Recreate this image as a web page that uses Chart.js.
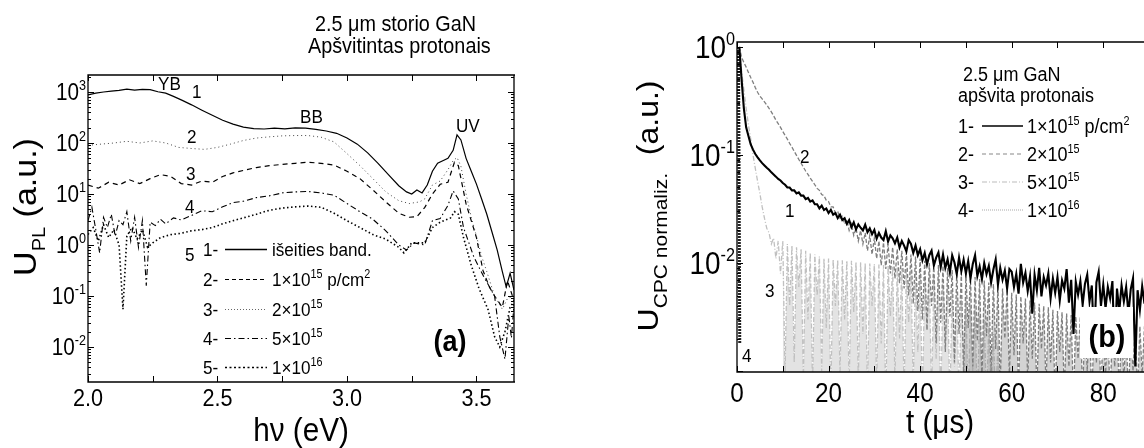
<!DOCTYPE html>
<html>
<head>
<meta charset="utf-8">
<title>GaN PL ir CPC</title>
<script src="https://cdn.jsdelivr.net/npm/chart.js@4.4.1/dist/chart.umd.min.js"></script>
<style>
  html, body { margin: 0; padding: 0; background: #fff; }
  #wrap { position: relative; width: 1144px; height: 448px; overflow: hidden; }
  canvas { position: absolute; top: 0; }
  #plChart { left: 0; }
  #cpcChart { left: 560px; }
</style>
</head>
<body>
<div id="wrap">
  <canvas id="plChart" width="560" height="448"></canvas>
  <canvas id="cpcChart" width="584" height="448"></canvas>
</div>
<script>
// (a) fotoliuminescencijos spektrai, hv (eV) -> U_PL (a.u.)
var hv1 = [2.0, 2.03, 2.06, 2.09, 2.12, 2.15, 2.18, 2.21, 2.24, 2.27, 2.3, 2.33, 2.36,
  2.4, 2.44, 2.48, 2.52, 2.56, 2.6, 2.64, 2.68, 2.72, 2.76, 2.8, 2.84, 2.88, 2.92, 2.96, 3.0,
  3.04, 3.08, 3.12, 3.16, 3.2, 3.23, 3.25, 3.27, 3.29, 3.31, 3.33, 3.35, 3.37, 3.39, 3.41,
  3.425, 3.44, 3.46, 3.48, 3.5, 3.52, 3.54, 3.56, 3.58, 3.6, 3.615, 3.63, 3.645];
var pl1 = [880, 950, 1000, 1040, 1080, 1140, 1090, 1130, 1110, 1010, 950, 820, 700,
  560, 440, 350, 280, 235, 205, 192, 188, 195, 190, 198, 195, 185, 172, 155, 125,
  95, 64, 40, 24, 14.5, 11, 10, 12, 10.5, 15, 28, 40, 45, 50, 72,
  145, 115, 50, 28, 15.6, 8, 4, 1.8, 0.8, 0.3, 0.15, 0.28, 0.13];

var hv2 = [2.0, 2.05, 2.1, 2.15, 2.2, 2.25, 2.3, 2.35, 2.4, 2.45, 2.5, 2.55, 2.6, 2.65, 2.7,
  2.75, 2.8, 2.85, 2.9, 2.95, 3.0, 3.05, 3.1, 3.15, 3.2, 3.24, 3.28, 3.3, 3.33, 3.36, 3.39,
  3.41, 3.425, 3.44, 3.46, 3.48, 3.5, 3.52, 3.54, 3.57, 3.6, 3.62, 3.645];
var pl2 = [90, 95, 100, 108, 100, 110, 100, 82, 78, 75, 82, 95, 112, 125, 132,
  138, 140, 140, 130, 105, 62, 36, 20, 11, 7.4, 6.5, 7, 8, 15, 18, 30,
  45, 52, 35, 10, 3.5, 1.5, 0.6, 0.3, 0.1, 0.055, 0.09, 0.1];

var hv3 = [2.0, 2.04, 2.08, 2.12, 2.16, 2.2, 2.24, 2.28, 2.32, 2.36, 2.4, 2.44, 2.48, 2.52,
  2.56, 2.6, 2.65, 2.7, 2.75, 2.8, 2.85, 2.9, 2.95, 3.0, 3.05, 3.1, 3.15, 3.2, 3.24, 3.27,
  3.3, 3.33, 3.36, 3.39, 3.415, 3.43, 3.46, 3.5, 3.525, 3.55, 3.57, 3.6, 3.62, 3.645];
var pl3 = [15, 13, 17, 15, 19, 16, 20, 24, 22, 16, 15, 18, 17, 22,
  26, 29, 33, 36, 38, 40, 42, 40, 37, 28, 20, 12, 7, 4.2, 3.5, 3.6,
  5.4, 10, 15.5, 17, 42, 36, 6.4, 1.4, 0.32, 0.15, 0.1, 0.06, 0.2, 0.08];

var hv4 = [2.0, 2.015, 2.03, 2.045, 2.06, 2.075, 2.09, 2.105, 2.12, 2.135, 2.15, 2.165,
  2.18, 2.195, 2.21, 2.225, 2.24, 2.26, 2.28, 2.3, 2.33, 2.36, 2.4, 2.44, 2.48, 2.52, 2.56,
  2.6, 2.65, 2.7, 2.75, 2.8, 2.85, 2.9, 2.95, 3.0, 3.05, 3.1, 3.15, 3.2, 3.23, 3.26, 3.3,
  3.33, 3.36, 3.39, 3.41, 3.43, 3.45, 3.49, 3.53, 3.57, 3.59, 3.61, 3.625, 3.635, 3.645];
var pl4 = [3, 5.5, 2, 0.7, 3.5, 2.2, 4, 1.5, 3, 2.5, 4.5, 1.2,
  3.5, 0.9, 3, 0.16, 2.8, 2.4, 3.2, 2.6, 3.4, 3.1, 3.8, 4.7, 4.5, 5.6, 6.8,
  7.2, 8.5, 9.2, 10.5, 11, 11.2, 10.5, 9.5, 6.5, 4.5, 3.2, 1.9, 1.0, 0.8, 1.1, 1.0,
  3.0, 3.3, 6, 11.5, 8, 2.2, 0.58, 0.23, 0.1, 0.016, 0.0058, 0.04, 0.015, 0.07];

var hv5 = [2.0, 2.02, 2.04, 2.06, 2.08, 2.1, 2.12, 2.135, 2.15, 2.17, 2.19, 2.21, 2.23,
  2.25, 2.28, 2.32, 2.36, 2.4, 2.44, 2.48, 2.52, 2.56, 2.6, 2.65, 2.7, 2.75, 2.8, 2.85,
  2.9, 2.95, 3.0, 3.05, 3.1, 3.15, 3.2, 3.22, 3.25, 3.3, 3.33, 3.36, 3.4, 3.415, 3.43,
  3.45, 3.48, 3.51, 3.545, 3.57, 3.59, 3.61, 3.63, 3.645];
var pl5 = [1.6, 2.2, 1.2, 2.5, 1.4, 2.0, 1.0, 0.055, 1.5, 2.2, 1.3, 2.0, 0.9,
  1.1, 1.4, 1.6, 1.7, 1.9, 2.0, 2.2, 2.6, 3.0, 3.4, 4.0, 4.8, 5.3, 5.6, 5.8,
  5.5, 4.2, 3.0, 2.2, 1.6, 1.3, 0.9, 0.7, 1.1, 1.1, 2.2, 2.8, 3.4, 4.5, 4.0,
  1.4, 0.4, 0.14, 0.054, 0.016, 0.01, 0.02, 0.06, 0.08];

var hvTicks = [2.0, 2.5, 3.0, 3.5];
var hvMinor = [2.25, 2.75, 3.25];
var plDecades = [-2, -1, 0, 1, 2, 3];

// (b) CPC kinetikos, t (us) -> U_CPC normaliz.
var tFine = [0, 0.5, 1, 1.5, 2, 2.5, 3, 3.5, 4, 4.5,
  5, 5.5, 6, 6.5, 7, 7.5, 8, 8.5, 9, 9.5,
  10, 10.5, 11, 11.5, 12, 12.5, 13, 13.5, 14, 14.5,
  15, 15.5, 16, 16.5, 17, 17.5, 18, 18.5, 19, 19.5,
  20, 20.5, 21, 21.5, 22, 22.5, 23, 23.5, 24, 24.5,
  25, 25.5, 26, 26.5, 27, 27.5, 28, 28.5, 29, 29.5,
  30, 30.5, 31, 31.5, 32, 32.5, 33, 33.5, 34, 34.5,
  35, 35.5, 36, 36.5, 37, 37.5, 38, 38.5, 39, 39.5,
  40, 40.5, 41, 41.5, 42, 42.5, 43, 43.5, 44, 44.5,
  45, 45.5, 46, 46.5, 47, 47.5, 48, 48.5, 49, 49.5,
  50, 50.5, 51, 51.5, 52, 52.5, 53, 53.5, 54, 54.5,
  55, 55.5, 56, 56.5, 57, 57.5, 58, 58.5, 59, 59.5,
  60, 60.5, 61, 61.5, 62, 62.5, 63, 63.5, 64, 64.5,
  65, 65.5, 66, 66.5, 67, 67.5, 68, 68.5, 69, 69.5,
  70, 70.5, 71, 71.5, 72, 72.5, 73, 73.5, 74, 74.5,
  75, 75.5, 76, 76.5, 77, 77.5, 78, 78.5, 79, 79.5,
  80, 80.5, 81, 81.5, 82, 82.5, 83, 83.5, 84, 84.5,
  85, 85.5, 86, 86.5, 87, 87.5, 88, 88.5, 89];

var cpc1 = [null, 1.0, 0.5, 0.27, 0.18, 0.15, 0.125, 0.112, 0.102, 0.095,
  0.089, 0.084, 0.080, 0.076, 0.073, 0.069, 0.066, 0.063, 0.060, 0.058,
  0.055, 0.053, 0.050, 0.050, 0.047, 0.047, 0.044, 0.045, 0.042, 0.042,
  0.039, 0.040, 0.037, 0.038, 0.035, 0.035, 0.032, 0.034, 0.031, 0.032,
  0.029, 0.031, 0.028, 0.029, 0.026, 0.028, 0.025, 0.026, 0.023, 0.025,
  0.0215, 0.0238, 0.0205, 0.0228, 0.0212, 0.0200, 0.0226, 0.0193, 0.0209, 0.0185,
  0.0203, 0.0168, 0.0190, 0.0172, 0.0163, 0.0197, 0.0158, 0.0180, 0.0169, 0.0152,
  0.0172, 0.0139, 0.0160, 0.0145, 0.0128, 0.0163, 0.0150, 0.0124, 0.0145, 0.0118,
  0.0134, 0.0106, 0.0124, 0.0097, 0.0118, 0.0130, 0.0095, 0.0112, 0.0125, 0.0092,
  0.0120, 0.0090, 0.0108, 0.0082, 0.0118, 0.0101, 0.0079, 0.0112, 0.0084, 0.0107,
  0.0080, 0.0104, 0.0072, 0.0098, 0.0118, 0.0076, 0.0093, 0.0071, 0.0100, 0.0079,
  0.0094, 0.0066, 0.0087, 0.0108, 0.0063, 0.0090, 0.0070, 0.0085, 0.0058, 0.0088,
  0.0083, 0.0060, 0.0079, 0.0052, 0.0098, 0.0066, 0.0081, 0.0055, 0.0075, 0.0034,
  0.0078, 0.0056, 0.0090, 0.0049, 0.0074, 0.0062, 0.0080, 0.0047, 0.0072, 0.0053,
  0.0074, 0.0045, 0.0069, 0.0058, 0.0088, 0.0043, 0.0070, 0.0022, 0.0067, 0.0051,
  0.0068, 0.0041, 0.0064, 0.0078, 0.0044, 0.0062, 0.0018, 0.0066, 0.0083, 0.0040,
  0.0063, 0.0038, 0.0060, 0.0047, 0.0068, 0.0014, 0.0058, 0.0036, 0.0062, 0.0044,
  0.0060, 0.0034, 0.0057, 0.0072, 0.0011, 0.0056, 0.0037, 0.0061, 0.0042];

var cpc2 = [null, 1.0, 0.8, 0.72, 0.65, 0.58, 0.52, 0.47, 0.42, 0.38,
  0.35, 0.33, 0.31, 0.29, 0.27, 0.25, 0.23, 0.21, 0.195, 0.18,
  0.165, 0.152, 0.14, 0.128, 0.118, 0.108, 0.099, 0.091, 0.084, 0.077,
  0.071, 0.066, 0.061, 0.057, 0.053, 0.049, 0.047, 0.043, 0.042, 0.038,
  0.037, 0.033, 0.033, 0.029, 0.030, 0.026, 0.027, 0.023, 0.025, 0.020,
  0.023, 0.018, 0.021, 0.016, 0.020, 0.015, 0.019, 0.013, 0.018, 0.012,
  0.017, 0.011, 0.016, 0.0095, 0.0155, 0.0088, 0.015, 0.0080, 0.014, 0.0072,
  0.0135, 0.0065, 0.013, 0.0058, 0.0125, 0.0050, 0.012, 0.0042, 0.0115, 0.0036,
  0.011, 0.0030, 0.0105, 0.0024, 0.010, 0.0040, 0.0098, 0.0018, 0.0096, 0.0028,
  0.0094, 0.0015, 0.0090, 0.0032, 0.0086, 0.0012, 0.0084, 0.0022, 0.0081, 0.0009,
  0.0079, 0.0025, 0.0076, 0.0011, 0.0074, 0.0019, 0.0071, 0.0008, 0.0069, 0.0021,
  0.0066, 0.0010, 0.0064, 0.0016, 0.0061, 0.0007, 0.0058, 0.0020, 0.0056, 0.0009,
  0.0053, 0.0014, 0.0051, 0.0006, 0.0049, 0.0018, 0.0047, 0.0008, 0.0045, 0.0013,
  0.0043, 0.0006, 0.0042, 0.0016, 0.0040, 0.0007, 0.0039, 0.0012, 0.0037, 0.0005,
  0.0036, 0.0015, 0.0035, 0.0006, 0.0034, 0.0011, 0.0033, 0.0005, 0.0032, 0.0013,
  0.0032, 0.0006, 0.0031, 0.0010, 0.0031, 0.0005, 0.0030, 0.0012, 0.0030, 0.0006,
  0.0029, 0.0009, 0.0029, 0.0005, 0.0028, 0.0011, 0.0028, 0.0006, 0.0028, 0.0008,
  0.0027, 0.0005, 0.0027, 0.0010, 0.0027, 0.0006, 0.0026, 0.0009, 0.0026];

var cpc3 = [null, 1.0, 0.6, 0.4, 0.27, 0.19, 0.14, 0.10, 0.075, 0.057,
  0.044, 0.033, 0.026, 0.021, 0.019, 0.015, 0.017, 0.011, 0.016, 0.008,
  0.016, 0.0009, 0.015, 0.004, 0.0145, 0.0012, 0.014, 0.006, 0.0135, 0.0008,
  0.013, 0.003, 0.0125, 0.0007, 0.012, 0.005, 0.0115, 0.0010, 0.011, 0.0025,
  0.011, 0.0006, 0.0108, 0.004, 0.0107, 0.0009, 0.0106, 0.0030, 0.0105, 0.0007,
  0.0105, 0.0035, 0.0103, 0.0008, 0.0102, 0.0022, 0.0100, 0.0006, 0.0099, 0.0040,
  0.0098, 0.0007, 0.0097, 0.0018, 0.0096, 0.0005, 0.0095, 0.0032, 0.0093, 0.0008,
  0.0092, 0.0020, 0.0090, 0.0006, 0.0088, 0.0028, 0.0086, 0.0007, 0.0084, 0.0015,
  0.0082, 0.0005, 0.0079, 0.0024, 0.0076, 0.0006, 0.0073, 0.0013, 0.0070, 0.0005,
  0.0065, 0.0018, 0.0062, 0.0005, 0.0058, 0.0011, 0.0054, 0.0005, 0.0050, 0.0014,
  0.0045, 0.0005, 0.0041, 0.0010, 0.0037, 0.0005, 0.0033, 0.0009, 0.0030, 0.0005,
  0.0026, 0.0006, 0.0022, 0.0005, 0.0018, 0.0005];

var tDrop4 = [0.3, 0.35, 0.4, 0.45, 0.5, 0.55, 0.6];
var cpc4 = [1.0, 0.5, 0.2, 0.07, 0.02, 0.006, 0.0018];

// triuksmo juostos uzpildymas prasideda nuo siu laiku
var fillFrom2 = 49.5;
var fillFrom3 = 10;

var tTicks = [0, 20, 40, 60, 80];
var tMinor = [10, 30, 50, 70];
var cpcDecades = [-2, -1, 0];

var FONT = '"Liberation Sans", Arial, sans-serif';
var SQ = 0.9;   // originalas kiek suspaustas horizontaliai

function pts(xs, ys) {
  return ys.map(function (v, i) { return { x: xs[i], y: v }; });
}

function after(xs, ys, t0) {
  return ys.map(function (v, i) { return xs[i] >= t0 ? v : null; });
}

function setFont(ctx, size, bold) {
  ctx.font = (bold ? 'bold ' : '') + size + 'px ' + FONT;
}

// segs: [[tekstas, 0 | 1 | -1]] ; 1 - laipsnis, -1 - indeksas
function rich(ctx, segs, x, y, size, align, opt) {
  opt = opt || {};
  var small = opt.small || Math.round(size * 0.62);
  var w = 0;
  segs.forEach(function (s) {
    setFont(ctx, s[1] ? small : size, opt.bold);
    w += ctx.measureText(s[0]).width;
  });
  var cx = align === 'right' ? -w : (align === 'center' ? -w / 2 : 0);
  ctx.save();
  ctx.translate(x, y);
  if (opt.rot) {
    ctx.rotate(-Math.PI / 2);
    ctx.scale(1, SQ);
  } else {
    ctx.scale(SQ, 1);
  }
  ctx.fillStyle = opt.color || '#000';
  ctx.textAlign = 'left';
  ctx.textBaseline = 'alphabetic';
  segs.forEach(function (s) {
    setFont(ctx, s[1] ? small : size, opt.bold);
    var dy = s[1] === 1 ? -size * 0.42 : (s[1] === -1 ? size * 0.3 : 0);
    ctx.fillText(s[0], cx, dy);
    cx += ctx.measureText(s[0]).width;
  });
  ctx.restore();
}

function sample(ctx, x1, x2, y, st) {
  ctx.save();
  ctx.strokeStyle = st.color || '#000';
  ctx.lineWidth = st.w || 1.2;
  ctx.setLineDash(st.dash || []);
  ctx.beginPath();
  ctx.moveTo(x1, y);
  ctx.lineTo(x2, y);
  ctx.stroke();
  ctx.restore();
}

function frame(chart, xMajor, xMinor, rightSide) {
  var ctx = chart.ctx, a = chart.chartArea;
  var sx = chart.scales.x, sy = chart.scales.y;
  ctx.save();
  ctx.strokeStyle = '#000';
  ctx.lineWidth = 1.3;
  ctx.beginPath();
  ctx.moveTo(a.right + 1, a.top); ctx.lineTo(a.left, a.top);
  ctx.lineTo(a.left, a.bottom); ctx.lineTo(a.right + 1, a.bottom);
  if (rightSide) { ctx.moveTo(a.right, a.top); ctx.lineTo(a.right, a.bottom); }
  ctx.stroke();

  ctx.lineWidth = 1;
  ctx.beginPath();
  xMajor.concat(xMinor).forEach(function (v) {
    var px = Math.round(sx.getPixelForValue(v)) + 0.5;
    ctx.moveTo(px, a.bottom); ctx.lineTo(px, a.bottom - 6);
    ctx.moveTo(px, a.top); ctx.lineTo(px, a.top + 6);
  });
  for (var e = -4; e <= 4; e++) {
    for (var m = 1; m < 10; m++) {
      var v = m * Math.pow(10, e);
      if (v < sy.min || v > sy.max) continue;
      var py = Math.round(sy.getPixelForValue(v)) + 0.5;
      var len = m === 1 ? 6 : 3;
      ctx.moveTo(a.left, py); ctx.lineTo(a.left + len, py);
      if (rightSide) { ctx.moveTo(a.right, py); ctx.lineTo(a.right - len, py); }
    }
  }
  ctx.stroke();
  ctx.restore();
}

// legendos eilutes (a)
var legendA = [
  { n: '1-', st: { dash: [], w: 1.3 }, txt: [['išeities band.', 0]] },
  { n: '2-', st: { dash: [4, 3] }, txt: [['1×10', 0], ['15', 1], [' p/cm', 0], ['2', 1]] },
  { n: '3-', st: { dash: [1, 2], color: '#666' }, txt: [['2×10', 0], ['15', 1]] },
  { n: '4-', st: { dash: [6, 3, 1.5, 3] }, txt: [['5×10', 0], ['15', 1]] },
  { n: '5-', st: { dash: [2, 2.5], w: 1.6 }, txt: [['1×10', 0], ['16', 1]] }
];

var legendB = [
  { n: '1-', st: { dash: [], w: 1.4 }, txt: [['1×10', 0], ['15', 1], [' p/cm', 0], ['2', 1]] },
  { n: '2-', st: { dash: [4, 3], color: '#888' }, txt: [['2×10', 0], ['15', 1]] },
  { n: '3-', st: { dash: [5, 2, 1, 2], color: '#bbb' }, txt: [['5×10', 0], ['15', 1]] },
  { n: '4-', st: { dash: [1, 1], color: '#aaa' }, txt: [['1×10', 0], ['16', 1]] }
];

var decoA = {
  id: 'decoA',
  afterDraw: function (chart) {
    var ctx = chart.ctx, sx = chart.scales.x, sy = chart.scales.y;
    frame(chart, hvTicks, hvMinor, true);

    plDecades.forEach(function (e) {
      var py = sy.getPixelForValue(Math.pow(10, e));
      rich(ctx, [['10', 0], [String(e), 1]], 86, py + 8, 23, 'right', { small: 14 });
    });
    hvTicks.forEach(function (v) {
      rich(ctx, [[v.toFixed(1), 0]], sx.getPixelForValue(v), 406, 24, 'center');
    });
    rich(ctx, [['hν (eV)', 0]], 301, 441, 33, 'center');
    rich(ctx, [['U', 0], ['PL', -1], [' (a.u.)', 0]], 36, 207, 34, 'center', { rot: true, small: 20 });

    rich(ctx, [['2.5 μm storio GaN', 0]], 315, 31, 22, 'left');
    rich(ctx, [['Apšvitintas protonais', 0]], 308, 53, 22, 'left');

    [['YB', 158, 90], ['1', 192, 98], ['BB', 300, 123], ['2', 187, 143], ['3', 186, 180],
     ['4', 185, 213], ['5', 185, 261], ['UV', 456, 132]].forEach(function (l) {
      rich(ctx, [[l[0], 0]], l[1], l[2], 19, 'left');
    });

    var base = [256, 286, 316, 345, 374];
    legendA.forEach(function (r, i) {
      rich(ctx, [[r.n, 0]], 203, base[i], 19, 'left');
      sample(ctx, 225, 267, base[i] - 6.5, r.st);
      rich(ctx, r.txt, 272, base[i], 19, 'left', { small: 12 });
    });

    rich(ctx, [['(a)', 0]], 450, 351, 30, 'center', { bold: true });
  }
};

var decoB = {
  id: 'decoB',
  afterDraw: function (chart) {
    var ctx = chart.ctx, sx = chart.scales.x, sy = chart.scales.y;
    var off = 560;
    // baltas langelis (b)
    ctx.save();
    ctx.fillStyle = '#fff';
    ctx.fillRect(1080 - off, 307, 53, 51);
    ctx.restore();
    frame(chart, tTicks, tMinor, false);

    cpcDecades.forEach(function (e) {
      var py = sy.getPixelForValue(Math.pow(10, e));
      rich(ctx, [['10', 0], [String(e), 1]], 735 - off, py + 11, 31, 'right', { small: 18 });
    });
    tTicks.forEach(function (v) {
      rich(ctx, [[String(v), 0]], sx.getPixelForValue(v), 402, 27, 'center');
    });
    rich(ctx, [['t (μs)', 0]], 940 - off, 433, 33, 'center');
    rich(ctx, [['U', 0], ['CPC normaliz.', -1], ['  (a.u.)', 0]], 658 - off, 206, 32, 'center',
      { rot: true, small: 21 });

    [['2', 800, 163], ['1', 785, 217], ['3', 765, 297], ['4', 742, 362]].forEach(function (l) {
      rich(ctx, [[l[0], 0]], l[1] - off, l[2], 19, 'left');
    });

    rich(ctx, [[' 2.5 μm GaN', 0]], 958 - off, 81, 20, 'left');
    rich(ctx, [['apšvita protonais', 0]], 958 - off, 102, 20, 'left');
    var base = [133, 161, 189, 217];
    legendB.forEach(function (r, i) {
      rich(ctx, [[r.n, 0]], 958 - off, base[i], 20, 'left');
      sample(ctx, 982 - off, 1023 - off, base[i] - 7, r.st);
      rich(ctx, r.txt, 1027 - off, base[i], 20, 'left', { small: 12 });
    });

    rich(ctx, [['(b)', 0]], 1107 - off, 347, 32, 'center', { bold: true });
  }
};

function lineDs(xs, ys, color, width, dash) {
  return {
    data: pts(xs, ys),
    borderColor: color,
    borderWidth: width,
    borderDash: dash,
    pointRadius: 0,
    fill: false,
    tension: 0
  };
}

// triuksmo juostos sesėlis po kreive
function bandDs(xs, ys, t0, color) {
  return {
    data: pts(xs, after(xs, ys, t0)),
    borderWidth: 0,
    borderColor: 'rgba(0,0,0,0)',
    backgroundColor: color,
    pointRadius: 0,
    fill: 'start',
    tension: 0
  };
}

new Chart(document.getElementById('plChart'), {
  type: 'line',
  data: {
    datasets: [
      lineDs(hv1, pl1, '#000', 1.2, []),
      lineDs(hv2, pl2, '#444', 1, [1, 3]),
      lineDs(hv3, pl3, '#000', 1.2, [5, 4]),
      lineDs(hv4, pl4, '#000', 1.1, [6, 3, 1.5, 3]),
      lineDs(hv5, pl5, '#000', 1.6, [1.5, 2.5])
    ]
  },
  options: {
    responsive: false,
    animation: false,
    layout: { padding: { left: 88, top: 75, right: 46, bottom: 66 } },
    plugins: { legend: { display: false }, tooltip: { enabled: false } },
    scales: {
      x: { type: 'linear', min: 2.0, max: 3.645, display: false },
      y: { type: 'logarithmic', min: 0.00206, max: 2154, display: false }
    }
  },
  plugins: [decoA]
});

new Chart(document.getElementById('cpcChart'), {
  type: 'line',
  data: {
    datasets: [
      lineDs(tFine, cpc1, '#000', 2.1, []),
      lineDs(tFine, cpc2, '#7f7f7f', 1.3, [4, 2]),
      bandDs(tFine, cpc2, fillFrom2, 'rgba(128,128,128,0.35)'),
      lineDs(tFine, cpc3, '#c0c0c0', 1.3, [5, 2, 1, 2]),
      bandDs(tFine, cpc3, fillFrom3, 'rgba(192,192,192,0.45)'),
      lineDs(tDrop4, cpc4, '#222', 3, [2, 1])
    ]
  },
  options: {
    responsive: false,
    animation: false,
    layout: { padding: { left: 177, top: 42, right: 0, bottom: 76 } },
    plugins: { legend: { display: false }, tooltip: { enabled: false } },
    scales: {
      x: { type: 'linear', min: 0, max: 88.9, display: false },
      y: { type: 'logarithmic', min: 0.00098, max: 1.11, display: false }
    }
  },
  plugins: [decoB]
});
</script>
</body>
</html>
